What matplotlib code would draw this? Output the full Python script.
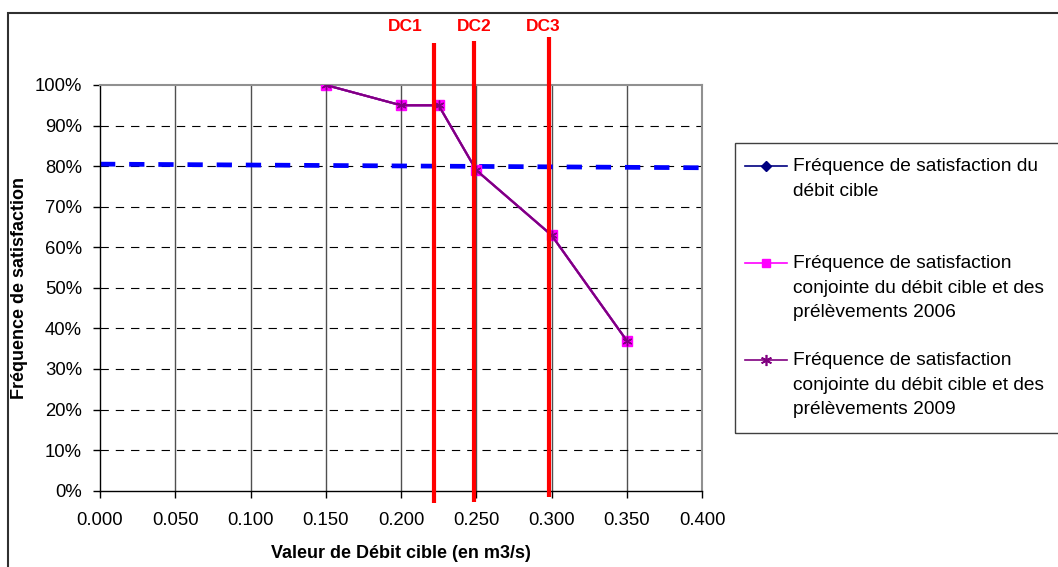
import numpy as np
import matplotlib
matplotlib.use('Agg')
import matplotlib.pyplot as plt
from matplotlib.lines import Line2D
from matplotlib.patches import Rectangle
from matplotlib.ticker import PercentFormatter, FormatStrFormatter

plt.rcParams['font.family'] = ['Liberation Sans', 'DejaVu Sans']
plt.rcParams['lines.scale_dashes'] = False

# --- data ---
debit = [0.150, 0.200, 0.225, 0.250, 0.300, 0.350]
freq_cible = [1.00, 0.95, 0.95, 0.79, 0.63, 0.37]
freq_2006 = [1.00, 0.95, 0.95, 0.79, 0.63, 0.37]
freq_2009 = [1.00, 0.95, 0.95, 0.79, 0.63, 0.37]

seuil_x = [0.0, 0.4]
seuil_y = [0.805, 0.796]

dc_noms = ['DC1', 'DC2', 'DC3']
dc_vals = [0.222, 0.2487, 0.2985]
dc_haut = [1.104, 1.108, 1.118]
dc_bas = [-0.030, -0.028, -0.016]
dc_texte_x = [0.203, 0.2485, 0.2945]

labels = ['Fréquence de satisfaction du\ndébit cible',
          'Fréquence de satisfaction\nconjointe du débit cible et des\nprélèvements 2006',
          'Fréquence de satisfaction\nconjointe du débit cible et des\nprélèvements 2009']

W, H = 1058, 567
fig = plt.figure(figsize=(W / 100, H / 100), dpi=100)
ax = fig.add_axes([100 / W, (H - 490.7) / H, 602 / W, 405.7 / H])

# grid
ax.set_xticks(np.arange(0, 0.401, 0.05))
ax.set_yticks(np.arange(0, 1.001, 0.1))
for xv in np.arange(0.05, 0.40, 0.05):
    ax.axvline(xv, color='#505050', lw=1, zorder=1)
for yv in np.arange(0.1, 1.0, 0.1):
    ax.axhline(yv, color='black', lw=0.8, dashes=(6, 5), zorder=1)

# seuil 80%
ax.plot(seuil_x, seuil_y, color='#0000FF', lw=3.4, dashes=(11, 10), zorder=2)

# series
ax.plot(debit, freq_cible, color='#000080', lw=1.5, marker='D', ms=5, zorder=3)
ax.plot(debit, freq_2006, color='#FF00FF', lw=1.5, marker='s', ms=7.5,
        mec='#FF00FF', zorder=4)
ax.plot(debit, freq_2009, color='#800080', lw=1.6, marker=(6, 2, 0), ms=7,
        mew=1.0, zorder=5)

# débits cibles
for nom, x, y1, y0, xt in zip(dc_noms, dc_vals, dc_haut, dc_bas, dc_texte_x):
    ax.plot([x, x], [y0, y1], color='#FF0000', lw=3, clip_on=False,
            solid_capstyle='butt', zorder=6)
    ax.text(xt, 1.143, nom, color='#FF0000', fontsize=12.5, fontweight='bold',
            ha='center', va='center')

ax.set_xlim(0, 0.4)
ax.set_ylim(0, 1.0)
ax.xaxis.set_major_formatter(FormatStrFormatter('%.3f'))
ax.yaxis.set_major_formatter(PercentFormatter(1.0, decimals=0))
ax.tick_params(axis='both', direction='out', length=5, width=1, labelsize=13.3,
               colors='black')
ax.tick_params(axis='x', pad=10)
ax.tick_params(axis='y', pad=8)
for s in ['left', 'bottom']:
    ax.spines[s].set_color('black')
    ax.spines[s].set_linewidth(1)
for s in ['top', 'right']:
    ax.spines[s].set_color('#909090')
    ax.spines[s].set_linewidth(1.5)

ax.set_xlabel('Valeur de Débit cible (en m3/s)', fontsize=13, fontweight='bold')
ax.set_ylabel('Fréquence de satisfaction', fontsize=13, fontweight='bold')
ax.xaxis.set_label_coords(0.5, -0.133)
ax.yaxis.set_label_coords(-0.12, 0.5)

# legend (manual, Excel style)
def fx(px):
    return px / W

def fy(py):
    return 1 - py / H

fig.add_artist(Rectangle((fx(735), fy(433)), fx(1070) - fx(735), fy(143) - fy(433),
                         transform=fig.transFigure, fill=False, ec='#404040', lw=1))
styles = [dict(color='#000080', marker='D', ms=5),
          dict(color='#FF00FF', marker='s', ms=6),
          dict(color='#800080', marker=(6, 2, 0), ms=8, mew=1.2)]
rows = [166, 263, 360]
for lab, st, r in zip(labels, styles, rows):
    fig.add_artist(Line2D([fx(745), fx(787)], [fy(r), fy(r)], lw=1.2,
                          color=st['color'], transform=fig.transFigure))
    fig.add_artist(Line2D([fx(766)], [fy(r)], lw=0, transform=fig.transFigure, **st))
    fig.text(fx(793), fy(r - 8), lab, fontsize=13.8, va='top', ha='left',
             linespacing=1.58)

# outer border
fig.add_artist(Rectangle((fx(7.5), fy(600)), fx(1100), fy(12.5) - fy(600),
                         transform=fig.transFigure, fill=False, ec='#303030', lw=1.5))

plt.savefig('out.png', dpi=100)
plt.close()
